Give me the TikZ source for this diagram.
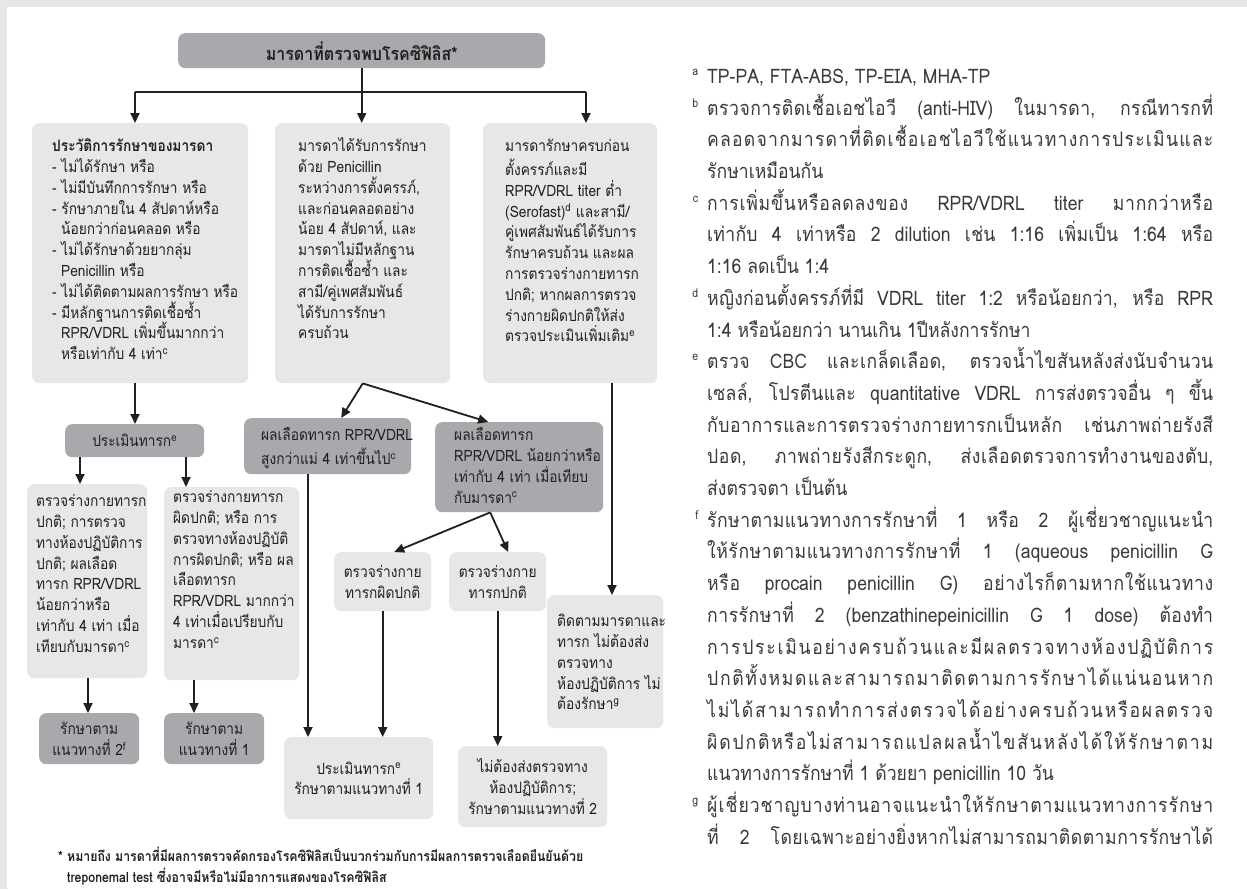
\documentclass[tikz,border=0pt]{standalone}
\usepackage{fontspec}
\setmainfont{Loma}[Script=Thai, FakeStretch=0.88]
\usetikzlibrary{arrows.meta}
% inter-character stretch for justified Thai lines (enabled only in the notes node)
\newXeTeXintercharclass\thbase
\newXeTeXintercharclass\thmark
\makeatletter
\count@="0E01
\loop\ifnum\count@<"0E5C \XeTeXcharclass\count@=\thbase \advance\count@ by 1 \repeat
\XeTeXcharclass"0E31=\thmark
\XeTeXcharclass"0E33=\thmark
\count@="0E34
\loop\ifnum\count@<"0E3B \XeTeXcharclass\count@=\thmark \advance\count@ by 1 \repeat
\count@="0E47
\loop\ifnum\count@<"0E4F \XeTeXcharclass\count@=\thmark \advance\count@ by 1 \repeat
\makeatother
\XeTeXinterchartoks\thbase\thbase={\hskip 0pt plus 0.1pt\relax}
\XeTeXinterchartoks\thmark\thbase={\hskip 0pt plus 0.1pt\relax}
\definecolor{bglite}{HTML}{E6E7E8}
\definecolor{boxlite}{HTML}{E6E7E8}
\definecolor{boxdark}{HTML}{A7A9AC}
\definecolor{ink}{HTML}{231F20}
\definecolor{notecol}{HTML}{3A3A3A}
\newcommand\boxfont{\fontsize{15.6}{20.8}\selectfont}
\newcommand\notefont{\fontsize{20}{31.7}\selectfont\XeTeXinterchartokenstate=1 }
\newcommand\jl[1]{\makebox[506pt][s]{#1}}
\newcommand\mk[1]{\llap{\raisebox{8pt}{\fontsize{12}{12}\selectfont #1}\hspace{9pt}}}
\newcommand\sps[1]{\textsuperscript{#1}}
\begin{document}
\begin{tikzpicture}[x=1pt,y=-1pt,
  box/.style={rounded corners=7pt, inner sep=0pt, anchor=north west},
  lite/.style={box, fill=boxlite},
  dark/.style={box, fill=boxdark},
  txt/.style={inner sep=0pt, anchor=north west, align=left, text=ink, font=\boxfont},
  ctxt/.style={text=ink, font=\boxfont, align=center},
  ln/.style={line width=1.8pt, draw=ink},
  arr/.style={ln, -{Triangle[length=10pt,width=9pt]}}]
\useasboundingbox (0,0) rectangle (1247,889);
\fill[bglite] (0,0) rectangle (1247,889);
\fill[white] (7,7) rectangle (1247,889);

% top
\node[dark, minimum width=367pt, minimum height=35pt, text=ink, font=\bfseries\fontsize{18.2}{20}\selectfont] (top) at (178,33) {มารดาที่ตรวจพบโรคซิฟิลิส*};

% level 1 boxes
\node[lite, minimum width=216pt, minimum height=260pt] (b1) at (32,123) {};
\node[lite, minimum width=175pt, minimum height=260pt] (b2) at (275,123) {};
\node[lite, minimum width=174pt, minimum height=260pt] (b3) at (483,123) {};

\node[txt] (b1t) at (52,137) {\strut\textbf{ประวัติการรักษาของมารดา}\\
- ไม่ได้รักษา หรือ\\
- ไม่มีบันทึกการรักษา หรือ\\
- รักษาภายใน 4 สัปดาห์หรือ\\
\hspace*{9pt}น้อยกว่าก่อนคลอด หรือ\\
- ไม่ได้รักษาด้วยยากลุ่ม\\
\hspace*{9pt}Penicillin หรือ\\
- ไม่ได้ติดตามผลการรักษา หรือ\\
- มีหลักฐานการติดเชื้อซ้ำ\\
\hspace*{9pt}RPR/VDRL เพิ่มขึ้นมากกว่า\\
\hspace*{9pt}หรือเท่ากับ 4 เท่า\sps{c}};

\node[txt] (b2t) at (298,137) {\strut มารดาได้รับการรักษา\\
ด้วย Penicillin\\
ระหว่างการตั้งครรภ์,\\
และก่อนคลอดอย่าง\\
น้อย 4 สัปดาห์, และ\\
มารดาไม่มีหลักฐาน\\
การติดเชื้อซ้ำ และ\\
สามี/คู่เพศสัมพันธ์\\
ได้รับการรักษา\\
ครบถ้วน};

\node[txt] (b3t) at (505,137) {\strut มารดารักษาครบก่อน\\
ตั้งครรภ์และมี\\
RPR/VDRL titer ต่ำ\\
(Serofast)\sps{d} และสามี/\\
คู่เพศสัมพันธ์ได้รับการ\\
รักษาครบถ้วน และผล\\
การตรวจร่างกายทารก\\
ปกติ; หากผลการตรวจ\\
ร่างกายผิดปกติให้ส่ง\\
ตรวจประเมินเพิ่มเติม\sps{e}};

% left branch
\node[dark, minimum width=139pt, minimum height=33pt, text=ink, font=\boxfont] (ev) at (65,424) {ประเมินทารก\sps{e}};
\node[lite, minimum width=120pt, minimum height=194pt] (l1) at (27,484) {};
\node[lite, minimum width=135pt, minimum height=193pt] (l2) at (164,487) {};
\node[txt] (l1t) at (36,492) {\strut ตรวจร่างกายทารก\\
ปกติ; การตรวจ\\
ทางห้องปฏิบัติการ\\
ปกติ; ผลเลือด\\
ทารก RPR/VDRL\\
น้อยกว่าหรือ\\
เท่ากับ 4 เท่า เมื่อ\\
เทียบกับมารดา\sps{c}};
\node[txt] (l2t) at (173,488) {\strut ตรวจร่างกายทารก\\
ผิดปกติ; หรือ การ\\
ตรวจทางห้องปฏิบัติ\\
การผิดปกติ; หรือ ผล\\
เลือดทารก\\
RPR/VDRL มากกว่า\\
4 เท่าเมื่อเปรียบกับ\\
มารดา\sps{c}};
\node[dark, minimum width=100pt, minimum height=51pt, ctxt] (t2) at (39,713) {รักษาตาม\\แนวทางที่ 2\sps{f}};
\node[dark, minimum width=100pt, minimum height=51pt, ctxt] (t1) at (164,713) {รักษาตาม\\แนวทางที่ 1};

% middle branch
\node[dark, minimum width=167pt, minimum height=56pt] (m1) at (244,418) {};
\node[txt] (m1t) at (261,426) {\strut ผลเลือดทารก RPR/VDRL\\สูงกว่าแม่ 4 เท่าขึ้นไป\sps{c}};
\node[dark, minimum width=168pt, minimum height=90pt] (m2) at (435,422) {};
\node[txt] (m2t) at (454,426) {\strut ผลเลือดทารก\\RPR/VDRL น้อยกว่าหรือ\\เท่ากับ 4 เท่า เมื่อเทียบ\\กับมารดา\sps{c}};
\node[lite, minimum width=97pt, minimum height=59pt, ctxt] (m3) at (334,552) {ตรวจร่างกาย\\ทารกผิดปกติ};
\node[lite, minimum width=97pt, minimum height=59pt, ctxt] (m4) at (449,552) {ตรวจร่างกาย\\ทารกปกติ};
\node[lite, minimum width=149pt, minimum height=82pt, ctxt] (e1) at (284,737) {ประเมินทารก\sps{e}\\รักษาตามแนวทางที่ 1};
\node[lite, minimum width=149pt, minimum height=81pt, ctxt] (e2) at (458,746) {ไม่ต้องส่งตรวจทาง\\ห้องปฏิบัติการ;\\รักษาตามแนวทางที่ 2};

% right branch
\node[lite, minimum width=116pt, minimum height=133pt] (rf) at (547,595) {};
\node[txt] (rft) at (557,612) {\strut ติดตามมารดาและ\\ทารก ไม่ต้องส่ง\\ตรวจทาง\\ห้องปฏิบัติการ ไม่\\ต้องรักษา\sps{g}};

% connectors
\coordinate (jl) at (135,92);
\coordinate (jr) at (586,92);
\coordinate (jm) at (top.south |- jl);
\draw[ln] (top.south) -- (jm);
\draw[ln] (jl) -- (jr);
\draw[arr] (jl) -- (jl |- b1.north);
\draw[arr] (jm) -- (jm |- b2.north);
\draw[arr] (jr) -- (jr |- b3.north);

\draw[arr] (b1.south -| jl) -- (ev.north -| jl);
\draw[arr] (ev.south -| 80,0) -- (l1.north -| 80,0);
\draw[arr] (ev.south -| 186,0) -- (l2.north -| 186,0);
\draw[arr] (l1.south -| 88,0) -- (t2.north -| 88,0);
\draw[arr] (l2.south -| 194,0) -- (t1.north -| 194,0);

\draw[arr] (b2.south) -- ([xshift=13.5pt]m1.north);
\draw[arr] (b2.south) -- ([xshift=-31pt]m2.north);
\draw[arr] ([xshift=-29pt]m2.south) -- ([xshift=11.5pt]m3.north);
\draw[arr] ([xshift=-29pt]m2.south) -- ([xshift=10.5pt]m4.north);
\draw[arr] (m1.south -| 308,0) -- (e1.north -| 308,0);
\draw[arr] (m3.south) -- (m3.south |- e1.north);
\draw[arr] (m4.south) -- (m4.south |- e2.north);
\draw[arr] (b3.south -| 612,0) -- (rf.north -| 612,0);

% footnote
\node[inner sep=0pt, anchor=north west, align=left, text=ink, font=\bfseries\fontsize{14}{17.5}\selectfont] (star) at (58,847) {\strut * หมายถึง มารดาที่มีผลการตรวจคัดกรองโรคซิฟิลิสเป็นบวกร่วมกับการมีผลการตรวจเลือดยืนยันด้วย\\
\hspace*{9pt}treponemal test ซึ่งอาจมีหรือไม่มีอาการแสดงของโรคซิฟิลิส};

% notes column
\node[inner sep=0pt, anchor=north west, align=left, text=notecol, font=\notefont] (notes) at (707,61) {\strut\mk{a}TP-PA, FTA-ABS, TP-EIA, MHA-TP\\
\mk{b}\jl{ตรวจการติดเชื้อเอชไอวี (anti-HIV) ในมารดา, กรณีทารกที่}\\
\jl{คลอดจากมารดาที่ติดเชื้อเอชไอวีใช้แนวทางการประเมินและ}\\
รักษาเหมือนกัน\\
\mk{c}\jl{การเพิ่มขึ้นหรือลดลงของ RPR/VDRL titer มากกว่าหรือ}\\
\jl{เท่ากับ 4 เท่าหรือ 2 dilution เช่น 1:16 เพิ่มเป็น 1:64 หรือ}\\
1:16 ลดเป็น 1:4\\
\mk{d}\jl{หญิงก่อนตั้งครรภ์ที่มี VDRL titer 1:2 หรือน้อยกว่า, หรือ RPR}\\
1:4 หรือน้อยกว่า นานเกิน 1ปีหลังการรักษา\\
\mk{e}\jl{ตรวจ CBC และเกล็ดเลือด, ตรวจน้ำไขสันหลังส่งนับจำนวน}\\
\jl{เซลล์, โปรตีนและ quantitative VDRL การส่งตรวจอื่น ๆ ขึ้น}\\
\jl{กับอาการและการตรวจร่างกายทารกเป็นหลัก เช่นภาพถ่ายรังสี}\\
\jl{ปอด, ภาพถ่ายรังสีกระดูก, ส่งเลือดตรวจการทำงานของตับ,}\\
ส่งตรวจตา เป็นต้น\\
\mk{f}\jl{รักษาตามแนวทางการรักษาที่ 1 หรือ 2 ผู้เชี่ยวชาญแนะนำ}\\
\jl{ให้รักษาตามแนวทางการรักษาที่ 1 (aqueous penicillin G}\\
\jl{หรือ procain penicillin G) อย่างไรก็ตามหากใช้แนวทาง}\\
\jl{การรักษาที่ 2 (benzathinepeinicillin G 1 dose) ต้องทำ}\\
\jl{การประเมินอย่างครบถ้วนและมีผลตรวจทางห้องปฏิบัติการ}\\
\jl{ปกติทั้งหมดและสามารถมาติดตามการรักษาได้แน่นอนหาก}\\
\jl{ไม่ได้สามารถทำการส่งตรวจได้อย่างครบถ้วนหรือผลตรวจ}\\
\jl{ผิดปกติหรือไม่สามารถแปลผลน้ำไขสันหลังได้ให้รักษาตาม}\\
แนวทางการรักษาที่ 1 ด้วยยา penicillin 10 วัน\\
\mk{g}\jl{ผู้เชี่ยวชาญบางท่านอาจแนะนำให้รักษาตามแนวทางการรักษา}\\
\jl{ที่ 2 โดยเฉพาะอย่างยิ่งหากไม่สามารถมาติดตามการรักษาได้}};
\end{tikzpicture}
\end{document}
